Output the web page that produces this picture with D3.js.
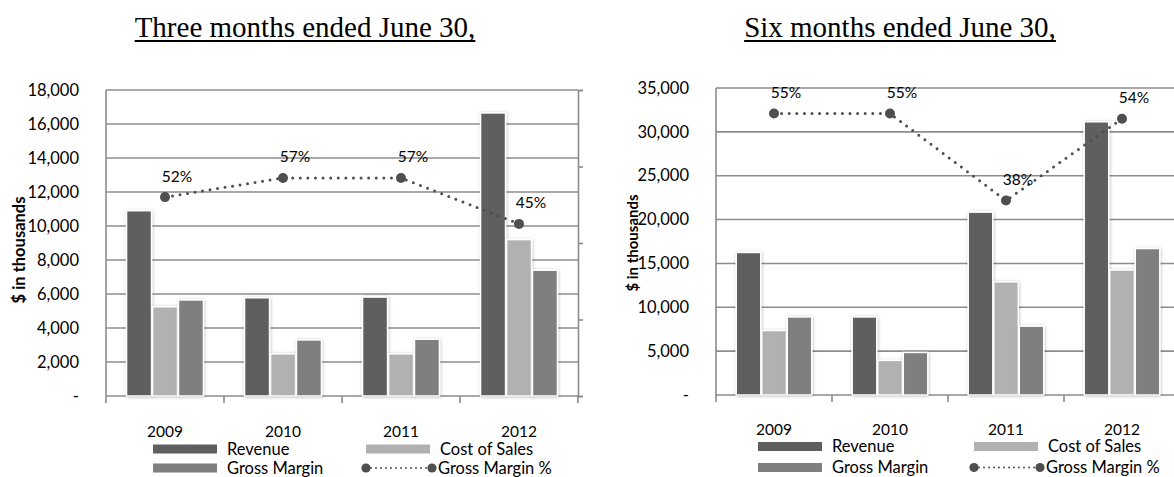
<!DOCTYPE html>
<html>
<head>
<meta charset="utf-8">
<script src="https://cdn.jsdelivr.net/npm/d3@7"></script>
<style>
  body { margin: 0; background: #fff; }
  text { font-family: Lato, "Open Sans", sans-serif; fill: #000; }
</style>
</head>
<body>
<div id="chart"></div>
<script>
const years = ["2009", "2010", "2011", "2012"];
const seriesNames = ["Revenue", "Cost of Sales", "Gross Margin"];

// Three months ended June 30 ($ in thousands)
const threeRevenue = [10900, 5780, 5820, 16650];
const threeCost = [5250, 2480, 2480, 9200];
const threeMargin = [5650, 3300, 3340, 7400];
const threePct = [0.52, 0.57, 0.57, 0.45];

// Six months ended June 30 ($ in thousands)
const sixRevenue = [16250, 8900, 20850, 31150];
const sixCost = [7350, 3950, 12900, 14250];
const sixMargin = [8900, 4850, 7850, 16700];
const sixPct = [0.55, 0.55, 0.38, 0.54];

const colors = { "Revenue": "#5f5f5f", "Cost of Sales": "#b1b1b1", "Gross Margin": "#7f7f7f" };
const lineColor = "#4f4f4f";
const gridColor = "#8c8c8c";

const svg = d3.select("#chart")
    .append("svg")
    .attr("width", 1174)
    .attr("height", 477);

const defs = svg.append("defs");
const shadow = defs.append("filter")
    .attr("id", "barShadow")
    .attr("x", "-30%").attr("y", "-10%")
    .attr("width", "160%").attr("height", "130%");
shadow.append("feDropShadow")
    .attr("dx", 0.5).attr("dy", 0.5)
    .attr("stdDeviation", 1.4)
    .attr("flood-color", "#000")
    .attr("flood-opacity", 0.28);

function drawChart(cfg) {
    const g = svg.append("g");

    // title with underline
    const title = g.append("text")
        .attr("x", cfg.titleX)
        .attr("y", 37)
        .attr("text-anchor", "middle")
        .style("font-family", "'Liberation Serif', 'Times New Roman', serif")
        .style("font-size", "29px")
        .text(cfg.title);
    const tb = title.node().getBBox();
    g.append("line")
        .attr("x1", tb.x).attr("x2", tb.x + tb.width)
        .attr("y1", 41).attr("y2", 41)
        .attr("stroke", "#000").attr("stroke-width", 2);

    const y = d3.scaleLinear()
        .domain([0, cfg.yMax])
        .range([cfg.bottom, cfg.top]);

    const yPct = d3.scaleLinear()
        .domain([0, cfg.pctMax])
        .range([cfg.bottom, cfg.top]);

    const x0 = d3.scaleBand()
        .domain(years)
        .range([cfg.left, cfg.right]);

    const bw = x0.bandwidth();
    const groupW = bw * 0.66;
    const x1 = d3.scaleBand()
        .domain(seriesNames)
        .range([(bw - groupW) / 2, (bw + groupW) / 2]);

    const yTicks = d3.range(0, cfg.yMax + 1, cfg.yStep);

    // gridlines
    g.append("g")
        .selectAll("line")
        .data(yTicks.filter(d => d > 0))
        .enter()
        .append("line")
        .attr("x1", cfg.left).attr("x2", cfg.right)
        .attr("y1", d => y(d)).attr("y2", d => y(d))
        .attr("stroke", gridColor)
        .attr("stroke-width", 1.6);

    // left axis labels
    const yAxis = g.append("g")
        .attr("transform", "translate(" + cfg.left + ",0)")
        .call(d3.axisLeft(y)
            .tickValues(yTicks)
            .tickSize(0)
            .tickPadding(27)
            .tickFormat(d => d === 0 ? "-" : d3.format(",")(d)));
    yAxis.select(".domain").remove();
    yAxis.selectAll("text").style("font-size", "16.5px").style("font-family", "Lato, sans-serif");

    g.append("line")
        .attr("x1", cfg.left).attr("x2", cfg.left)
        .attr("y1", cfg.top).attr("y2", cfg.bottom)
        .attr("stroke", gridColor).attr("stroke-width", 1.6);

    // right (secondary) axis
    const yRight = g.append("g")
        .attr("transform", "translate(" + cfg.right + ",0)")
        .call(d3.axisRight(yPct)
            .ticks(Math.round(cfg.pctMax / 0.2))
            .tickSize(5)
            .tickFormat(""));
    yRight.select(".domain").attr("stroke", gridColor).attr("stroke-width", 1.6);
    yRight.selectAll("line").attr("stroke", gridColor).attr("stroke-width", 1.6);

    // bottom axis
    const boundaries = years.map(d => x0(d)).concat([cfg.right]);
    g.append("line")
        .attr("x1", cfg.left).attr("x2", cfg.right)
        .attr("y1", cfg.bottom).attr("y2", cfg.bottom)
        .attr("stroke", gridColor).attr("stroke-width", 1.6);
    g.append("g")
        .selectAll("line")
        .data(boundaries)
        .enter()
        .append("line")
        .attr("x1", d => d).attr("x2", d => d)
        .attr("y1", cfg.bottom).attr("y2", cfg.bottom + 7)
        .attr("stroke", gridColor).attr("stroke-width", 1.6);

    g.append("g")
        .selectAll("text")
        .data(years)
        .enter()
        .append("text")
        .attr("x", d => x0(d) + bw / 2)
        .attr("y", cfg.yearY)
        .attr("dy", "0.35em")
        .attr("text-anchor", "middle")
        .style("font-size", "15.5px")
        .text(d => d);

    // bars
    const rows = years.map((yr, i) => ({
        year: yr,
        values: [
            { name: "Revenue", value: cfg.revenue[i] },
            { name: "Cost of Sales", value: cfg.cost[i] },
            { name: "Gross Margin", value: cfg.margin[i] }
        ]
    }));

    g.append("g")
        .selectAll("g")
        .data(rows)
        .enter()
        .append("g")
        .attr("transform", d => "translate(" + x0(d.year) + ",0)")
        .selectAll("rect")
        .data(d => d.values)
        .enter()
        .append("rect")
        .attr("x", d => x1(d.name) + 0.5)
        .attr("width", x1.bandwidth() - 1)
        .attr("y", d => y(d.value))
        .attr("height", d => cfg.bottom - y(d.value))
        .attr("fill", d => colors[d.name])
        .attr("stroke", "#fff")
        .attr("stroke-width", 1.5)
        .attr("filter", "url(#barShadow)");

    // gross margin % line
    const line = d3.line()
        .x((d, i) => x0(years[i]) + bw / 2)
        .y(d => yPct(d));

    g.append("path")
        .datum(cfg.pct)
        .attr("d", line)
        .attr("fill", "none")
        .attr("stroke", lineColor)
        .attr("stroke-width", 3)
        .attr("stroke-linecap", "round")
        .attr("stroke-dasharray", "0,7.6");

    g.append("g")
        .selectAll("circle")
        .data(cfg.pct)
        .enter()
        .append("circle")
        .attr("cx", (d, i) => x0(years[i]) + bw / 2)
        .attr("cy", d => yPct(d))
        .attr("r", 5)
        .attr("fill", lineColor);

    g.append("g")
        .selectAll("text")
        .data(cfg.pct)
        .enter()
        .append("text")
        .attr("x", (d, i) => x0(years[i]) + bw / 2 + 12)
        .attr("y", d => yPct(d) - 21)
        .attr("dy", "0.35em")
        .attr("text-anchor", "middle")
        .style("font-size", "15.5px")
        .text(d => d3.format(".0%")(d));

    // y axis title
    g.append("text")
        .attr("transform", "translate(" + cfg.yTitleX + "," + cfg.yTitleY + ") rotate(-90)")
        .attr("text-anchor", "middle")
        .attr("dy", "0.35em")
        .style("font-size", cfg.yTitleSize + "px")
        .style("font-weight", "bold")
        .text("$ in thousands");

    // legend
    const legendItems = [
        { name: "Revenue", x: cfg.legendX[0], y: cfg.legendY[0] },
        { name: "Cost of Sales", x: cfg.legendX[1], y: cfg.legendY[0] },
        { name: "Gross Margin", x: cfg.legendX[0], y: cfg.legendY[1] }
    ];
    legendItems.forEach(item => {
        g.append("rect")
            .attr("x", item.x).attr("y", item.y - 4.5)
            .attr("width", 64).attr("height", 9)
            .attr("fill", colors[item.name]);
        g.append("text")
            .attr("x", item.x + 74).attr("y", item.y)
            .attr("dy", "0.35em")
            .style("font-size", "16.5px")
            .text(item.name);
    });

    const lx = cfg.legendX[1], ly = cfg.legendY[1];
    g.append("line")
        .attr("x1", lx).attr("x2", lx + 66)
        .attr("y1", ly).attr("y2", ly)
        .attr("stroke", lineColor)
        .attr("stroke-width", 2)
        .attr("stroke-linecap", "round")
        .attr("stroke-dasharray", "0,5");
    [lx, lx + 66].forEach(cx => {
        g.append("circle")
            .attr("cx", cx).attr("cy", ly)
            .attr("r", 4.6)
            .attr("fill", lineColor);
    });
    g.append("text")
        .attr("x", lx + 72).attr("y", ly)
        .attr("dy", "0.35em")
        .style("font-size", "16.5px")
        .text("Gross Margin %");
}

drawChart({
    title: "Three months ended June 30,",
    titleX: 305,
    left: 106, right: 578, top: 90, bottom: 396,
    yMax: 18000, yStep: 2000, pctMax: 0.8,
    revenue: threeRevenue, cost: threeCost, margin: threeMargin, pct: threePct,
    yearY: 432,
    yTitleX: 19, yTitleY: 250, yTitleSize: 16.5,
    legendX: [153, 366], legendY: [449, 468]
});

drawChart({
    title: "Six months ended June 30,",
    titleX: 900,
    left: 716, right: 1180, top: 88, bottom: 395,
    yMax: 35000, yStep: 5000, pctMax: 0.6,
    revenue: sixRevenue, cost: sixCost, margin: sixMargin, pct: sixPct,
    yearY: 430,
    yTitleX: 633, yTitleY: 243, yTitleSize: 15,
    legendX: [758, 974], legendY: [446.5, 467.5]
});
</script>
</body>
</html>
